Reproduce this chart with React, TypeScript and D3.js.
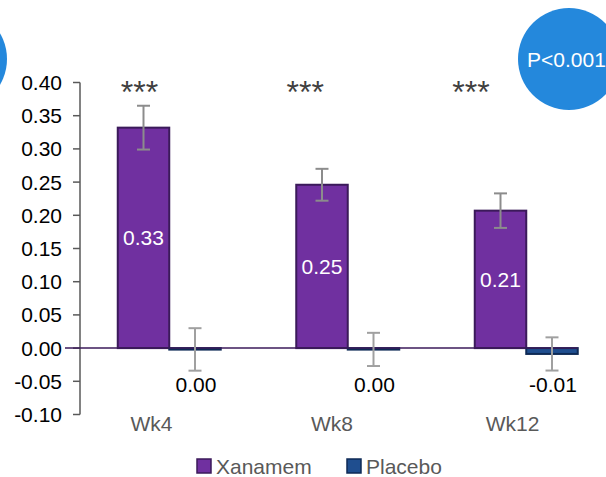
import React from "react";
import * as d3 from "d3";

const categories = ["Wk4", "Wk8", "Wk12"];
const seriesNames = ["Xanamem", "Placebo"];
const xanamemValues = [0.332, 0.246, 0.207];
const placeboValues = [-0.002, -0.002, -0.0088];
const xanamemSE = [0.033, 0.024, 0.026];
const placeboSE = [0.032, 0.025, 0.025];
const xanamemLabels = ["0.33", "0.25", "0.21"];
const placeboLabels = ["0.00", "0.00", "-0.01"];
const stars = ["***", "***", "***"];
const yTicks = [0.4, 0.35, 0.3, 0.25, 0.2, 0.15, 0.1, 0.05, 0, -0.05, -0.1];
const pText = "P<0.001";

const W = 606;
const H = 477;
const FONT = "'Liberation Sans', Arial, sans-serif";
const colors = { Xanamem: "#7030A0", Placebo: "#1F4E8F" };
const strokes = { Xanamem: "#3B1A5A", Placebo: "#0E2A55" };

export default function App() {
  const y = d3.scaleLinear().domain([-0.1, 0.4]).range([414.5, 82.5]);
  const x0 = d3.scaleBand().domain(categories).range([80, 615.5]).paddingInner(0).paddingOuter(0);
  const x1 = d3.scaleBand().domain(seriesNames).range([0, 103]).padding(0);
  const groupOffset = (x0.bandwidth() - 103) / 2;
  const starX = d3.scalePoint().domain(categories).range([139.5, 471]);
  const catX = d3.scalePoint().domain(categories).range([151.5, 512.5]);

  const series = [
    { name: "Xanamem", values: xanamemValues, se: xanamemSE },
    { name: "Placebo", values: placeboValues, se: placeboSE },
  ];

  const lastX = (x0(categories[categories.length - 1]) as number) + groupOffset + 103;

  return (
    <svg width={W} height={H} style={{ position: "absolute", left: 0, top: 0, background: "#fff" }} fontFamily={FONT}>
      {/* circles */}
      <circle cx={-44} cy={59} r={51} fill="#2488DC" />
      <circle cx={569} cy={59} r={51} fill="#2488DC" />
      <text x={527} y={66.5} fill="#fff" fontSize={21}>{pText}</text>

      {/* y axis */}
      <line x1={80} x2={80} y1={y(0.4)} y2={y(-0.1)} stroke="#595959" strokeWidth={1.5} />
      {yTicks.map((t) => (
        <g key={t}>
          <line x1={73} x2={80} y1={y(t)} y2={y(t)} stroke="#595959" strokeWidth={1.5} />
          <text x={62} y={y(t) + 7.5} textAnchor="end" fontSize={21} fill="#000">
            {t.toFixed(2)}
          </text>
        </g>
      ))}

      {/* bars */}
      {categories.map((c, i) => {
        const gx = (x0(c) as number) + groupOffset;
        return (
          <g key={c}>
            {series.map((s) => {
              const bx = gx + (x1(s.name) as number);
              const v = s.values[i];
              const top = y(Math.max(0, v));
              const bot = y(Math.min(0, v));
              return (
                <rect
                  key={s.name}
                  x={bx}
                  y={top}
                  width={x1.bandwidth()}
                  height={Math.max(bot - top, 1.5)}
                  fill={colors[s.name as keyof typeof colors]}
                  stroke={strokes[s.name as keyof typeof strokes]}
                  strokeWidth={2}
                />
              );
            })}
          </g>
        );
      })}

      {/* zero line */}
      <line x1={65} x2={lastX} y1={y(0)} y2={y(0)} stroke="#3B1A5A" strokeWidth={1.5} />

      {/* error bars */}
      {categories.map((c, i) => {
        const gx = (x0(c) as number) + groupOffset;
        return series.map((s) => {
          const cx = gx + (x1(s.name) as number) + x1.bandwidth() / 2;
          const v = s.values[i];
          const hi = y(v + s.se[i]);
          const lo = y(v - s.se[i]);
          const col = s.name === "Xanamem" ? "#8C8C8C" : "#A0A0A0";
          return (
            <g key={c + s.name} stroke={col} strokeWidth={2}>
              <line x1={cx} x2={cx} y1={hi} y2={lo} />
              <line x1={cx - 6.5} x2={cx + 6.5} y1={hi} y2={hi} />
              <line x1={cx - 6.5} x2={cx + 6.5} y1={lo} y2={lo} />
            </g>
          );
        });
      })}

      {/* data labels */}
      {categories.map((c, i) => {
        const gx = (x0(c) as number) + groupOffset;
        const xc = gx + (x1("Xanamem") as number) + x1.bandwidth() / 2;
        const pc = gx + (x1("Placebo") as number) + x1.bandwidth() / 2;
        const mid = (y(xanamemValues[i]) + y(0)) / 2;
        return (
          <g key={c}>
            <text x={xc} y={mid + 7.5} textAnchor="middle" fontSize={21} fill="#fff">
              {xanamemLabels[i]}
            </text>
            <text x={pc + 1} y={y(0) + 44} textAnchor="middle" fontSize={21} fill="#000">
              {placeboLabels[i]}
            </text>
            <text x={starX(c)} y={103} textAnchor="middle" fontSize={32} fill="#404040">
              {stars[i]}
            </text>
            <text x={catX(c)} y={431} textAnchor="middle" fontSize={21} fill="#595959">
              {c}
            </text>
          </g>
        );
      })}

      {/* legend */}
      {seriesNames.map((n, i) => {
        const lx = i === 0 ? 197 : 347;
        return (
          <g key={n}>
            <rect x={lx} y={459} width={14} height={14} fill={colors[n as keyof typeof colors]} stroke={strokes[n as keyof typeof strokes]} strokeWidth={1.5} />
            <text x={lx + 19} y={474} fontSize={21} fill="#595959">
              {n}
            </text>
          </g>
        );
      })}
    </svg>
  );
}
